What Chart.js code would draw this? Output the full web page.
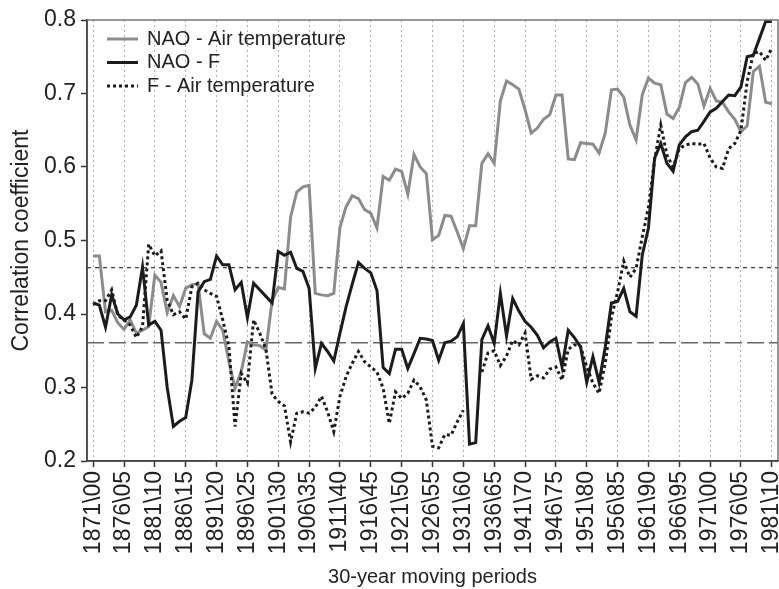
<!DOCTYPE html>
<html>
<head>
<meta charset="utf-8">
<script src="https://cdn.jsdelivr.net/npm/chart.js@4/dist/chart.umd.min.js"></script>
<style>
  html, body { margin: 0; padding: 0; background: #fff; }
  canvas { display: block; }
</style>
</head>
<body>
<canvas id="chart" width="779" height="589"></canvas>
<script>
// 30-year moving periods, named by their first year (1871-1900 ... 1981-2010)
const firstYear = 1871;
const lastYear = 1981;

const tickYears = [1871, 1876, 1881, 1886, 1891, 1896, 1901, 1906, 1911, 1916, 1921, 1926,
  1931, 1936, 1941, 1946, 1951, 1956, 1961, 1966, 1971, 1976, 1981];
const tickLabels = ['1871\\00', '1876\\05', '1881\\10', '1886\\15', '1891\\20', '1896\\25',
  '1901\\30', '1906\\35', '1911\\40', '1916\\45', '1921\\50', '1926\\55', '1931\\60',
  '1936\\65', '1941\\70', '1946\\75', '1951\\80', '1956\\85', '1961\\90', '1966\\95',
  '1971\\00', '1976\\05', '1981\\10'];

// NAO - Air temperature
const naoAir = [
  0.479, 0.479, 0.403, 0.405, 0.388, 0.379, 0.392, 0.374, 0.378, 0.383,
  0.453, 0.443, 0.402, 0.425, 0.410, 0.435, 0.440, 0.441, 0.373, 0.367,
  0.390, 0.378, 0.335, 0.299, 0.322, 0.362, 0.358, 0.357, 0.351, 0.418,
  0.436, 0.434, 0.532, 0.566, 0.573, 0.575, 0.428, 0.426, 0.425, 0.428,
  0.518, 0.546, 0.561, 0.557, 0.542, 0.537, 0.517, 0.587, 0.582, 0.597,
  0.594, 0.563, 0.617, 0.600, 0.591, 0.501, 0.507, 0.534, 0.533, 0.512,
  0.489, 0.520, 0.520, 0.605, 0.618, 0.605, 0.690, 0.717, 0.712, 0.706,
  0.678, 0.646, 0.653, 0.665, 0.671, 0.698, 0.698, 0.611, 0.610, 0.633,
  0.632, 0.631, 0.619, 0.646, 0.705, 0.706, 0.695, 0.657, 0.637, 0.698,
  0.721, 0.714, 0.712, 0.672, 0.666, 0.681, 0.715, 0.722, 0.713, 0.683,
  0.707, 0.690, 0.688, 0.675, 0.665, 0.648, 0.656, 0.730, 0.737, 0.688,
  0.686
];

// NAO - F
const naoF = [
  0.415, 0.412, 0.382, 0.426, 0.400, 0.392, 0.396, 0.412, 0.464, 0.385,
  0.390, 0.378, 0.300, 0.247, 0.254, 0.259, 0.310, 0.430, 0.444, 0.447,
  0.479, 0.467, 0.467, 0.433, 0.443, 0.395, 0.442, 0.433, 0.424, 0.415,
  0.485, 0.480, 0.484, 0.462, 0.458, 0.435, 0.326, 0.360, 0.349, 0.336,
  0.374, 0.410, 0.441, 0.470, 0.462, 0.456, 0.432, 0.327, 0.319, 0.352,
  0.352, 0.326, 0.346, 0.367, 0.366, 0.364, 0.337, 0.361, 0.363, 0.369,
  0.387, 0.223, 0.225, 0.365, 0.384, 0.360, 0.428, 0.370, 0.421, 0.404,
  0.390, 0.382, 0.371, 0.354, 0.362, 0.367, 0.328, 0.378, 0.368, 0.355,
  0.307, 0.342, 0.307, 0.355, 0.415, 0.417, 0.435, 0.403, 0.397, 0.480,
  0.517, 0.612, 0.632, 0.605, 0.594, 0.630, 0.641, 0.648, 0.650, 0.662,
  0.675, 0.680, 0.689, 0.698, 0.697, 0.709, 0.750, 0.752, 0.775, 0.798,
  0.798
];

// F - Air temperature (no value for 1932 and 1933)
const fAir = [
  0.413, 0.418, 0.418, 0.433, 0.398, 0.392, 0.385, 0.368, 0.383, 0.495,
  0.479, 0.486, 0.419, 0.399, 0.403, 0.393, 0.437, 0.442, 0.433, 0.428,
  0.424, 0.392, 0.356, 0.247, 0.319, 0.306, 0.392, 0.374, 0.352, 0.291,
  0.281, 0.275, 0.226, 0.265, 0.267, 0.265, 0.273, 0.288, 0.267, 0.240,
  0.288, 0.315, 0.333, 0.349, 0.335, 0.328, 0.321, 0.299, 0.251, 0.294,
  0.285, 0.292, 0.310, 0.301, 0.283, 0.220, 0.218, 0.236, 0.235, 0.253,
  0.269, null, null, 0.321, 0.347, 0.350, 0.330, 0.343, 0.364, 0.358,
  0.374, 0.311, 0.316, 0.313, 0.325, 0.328, 0.310, 0.352, 0.358, 0.356,
  0.328, 0.306, 0.292, 0.333, 0.395, 0.430, 0.472, 0.450, 0.462, 0.505,
  0.545, 0.610, 0.657, 0.616, 0.600, 0.625, 0.630, 0.632, 0.631, 0.632,
  0.612, 0.600, 0.598, 0.625, 0.632, 0.650, 0.716, 0.755, 0.757, 0.745,
  0.762
];

// significance levels (0.01 and 0.05)
const sigHigh = 0.463;
const sigLow = 0.361;

const FONT = 'Liberation Sans, Arial, sans-serif';
const GRAY = '#8c8c8c';
const BLACK = '#1c1c1c';

const years = [];
for (let y = firstYear; y <= lastYear; y++) years.push(y);
const toPoints = arr => arr.map((v, i) => ({ x: years[i], y: v }));
const hLine = v => [{ x: firstYear - 1, y: v }, { x: lastYear + 1, y: v }];

const legendItems = [
  { text: 'NAO - Air temperature', color: GRAY, dash: [] },
  { text: 'NAO - F', color: BLACK, dash: [] },
  { text: 'F - Air temperature', color: BLACK, dash: [3, 3] }
];

const framePlugin = {
  id: 'frame',
  afterDraw(chart) {
    const { ctx, chartArea: a } = chart;
    ctx.save();
    ctx.strokeStyle = '#777';
    ctx.lineWidth = 1.5;
    ctx.beginPath();
    ctx.moveTo(a.left, a.top);
    ctx.lineTo(a.right, a.top);
    ctx.lineTo(a.right, a.bottom);
    ctx.stroke();
    // left / bottom axis lines, solid
    ctx.strokeStyle = '#444';
    ctx.beginPath();
    ctx.moveTo(a.left, a.top);
    ctx.lineTo(a.left, a.bottom);
    ctx.lineTo(a.right, a.bottom);
    ctx.stroke();

    // legend, top left inside the plot
    ctx.font = '20px ' + FONT;
    ctx.textBaseline = 'middle';
    legendItems.forEach((it, i) => {
      const y = a.top + 19 + i * 23.5;
      ctx.strokeStyle = it.color;
      ctx.lineWidth = 3;
      ctx.setLineDash(it.dash);
      ctx.beginPath();
      ctx.moveTo(a.left + 20, y);
      ctx.lineTo(a.left + 51, y);
      ctx.stroke();
      ctx.setLineDash([]);
      ctx.fillStyle = '#222';
      ctx.fillText(it.text, a.left + 60, y);
    });
    ctx.restore();
  }
};

new Chart(document.getElementById('chart'), {
  type: 'line',
  data: {
    datasets: [
      { data: toPoints(fAir), borderColor: BLACK, borderWidth: 3, borderDash: [3, 3], order: 1 },
      { data: toPoints(naoF), borderColor: BLACK, borderWidth: 3, order: 2 },
      { data: toPoints(naoAir), borderColor: GRAY, borderWidth: 3, order: 3 },
      { data: hLine(sigHigh), borderColor: '#333', borderWidth: 1.2, borderDash: [4, 4], order: 4 },
      { data: hLine(sigLow), borderColor: '#666', borderWidth: 1.5, borderDash: [17, 5], order: 4 }
    ]
  },
  options: {
    responsive: false,
    animation: false,
    events: [],
    layout: { padding: { top: 20, right: 1, left: 0, bottom: 0 } },
    elements: {
      point: { radius: 0 },
      line: { tension: 0, fill: false, borderJoinStyle: 'miter' }
    },
    plugins: {
      legend: { display: false },
      tooltip: { enabled: false }
    },
    scales: {
      x: {
        type: 'linear',
        min: firstYear - 1,
        max: lastYear + 1,
        afterBuildTicks: scale => {
          scale.ticks = tickYears.map(v => ({ value: v }));
        },
        afterFit: scale => {
          scale.height = 128;
          scale.paddingLeft = 0;
          scale.paddingRight = 0;
        },
        ticks: {
          autoSkip: false,
          minRotation: 90,
          maxRotation: 90,
          padding: 4,
          color: '#222',
          font: { family: FONT, size: 23 },
          callback: v => tickLabels[tickYears.indexOf(v)]
        },
        grid: {
          color: '#b0b0b0',
          lineWidth: 1,
          tickLength: 6,
          tickColor: '#333',
          tickWidth: 1.5,
          tickBorderDash: []
        },
        border: { display: true, color: '#444', width: 1.5, dash: [2, 3] },
        title: {
          display: true,
          text: '30-year moving periods',
          color: '#222',
          font: { family: FONT, size: 20 },
          padding: { top: 0, bottom: 0 }
        }
      },
      y: {
        min: 0.2,
        max: 0.8,
        afterFit: scale => {
          scale.width = 87;
          scale.paddingTop = 0;
          scale.paddingBottom = 0;
        },
        ticks: {
          stepSize: 0.1,
          padding: 5,
          color: '#222',
          font: { family: FONT, size: 23 },
          callback: v => v.toFixed(1)
        },
        grid: {
          drawOnChartArea: false,
          tickLength: 6,
          tickColor: '#333',
          tickWidth: 1.5
        },
        border: { display: true, color: '#444', width: 1.5 },
        title: {
          display: true,
          text: 'Correlation coefficient',
          color: '#222',
          font: { family: FONT, size: 23 },
          padding: { top: 8, bottom: 0 }
        }
      }
    }
  },
  plugins: [framePlugin]
});
</script>
</body>
</html>
